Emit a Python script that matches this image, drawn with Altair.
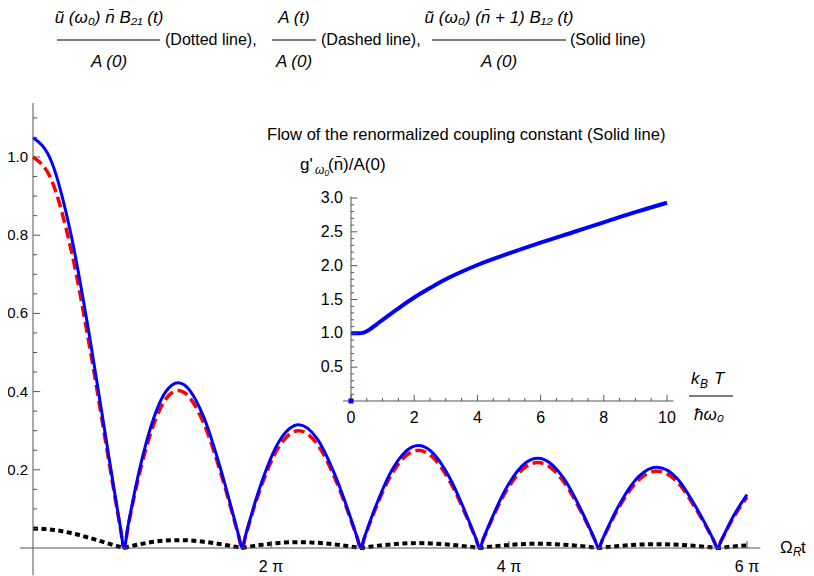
import altair as alt
import pandas as pd

# ---------------- main plot data ----------------
omega_t = [0, 0.5, 1.0, 1.5, 2.0, 2.305, 2.405, 2.505, 3.0, 3.5, 3.832, 4.0, 4.5, 5.0,
           5.42, 5.52, 5.62, 6.0, 6.5, 7.016, 7.5, 8.0, 8.554, 8.654, 8.754,
           9.0, 9.5, 10.0, 10.173, 10.5, 11.0, 11.5, 11.692, 11.792, 11.892,
           12.0, 12.5, 13.0, 13.324, 13.5, 14.0, 14.5, 14.831, 14.931, 15.031,
           15.5, 16.0, 16.471, 17.0, 17.5, 17.971, 18.071, 18.171, 18.5, 18.85]
dotted_vals = [0.0500, 0.0469, 0.0383, 0.0256, 0.0112, 0.0026, 0, 0.0026,
               0.0130, 0.0190, 0.0201, 0.0199, 0.0160, 0.0089, 0.0017, 0, 0.0017,
               0.0075, 0.0130, 0.0150, 0.0133, 0.0086, 0.0014, 0, 0.0014,
               0.0045, 0.0097, 0.0123, 0.0125, 0.0118, 0.0086, 0.0034, 0.0012, 0, 0.0012,
               0.0024, 0.0073, 0.0103, 0.0109, 0.0108, 0.0086, 0.0044, 0.0010, 0, 0.0010,
               0.0055, 0.0087, 0.0098, 0.0085, 0.0050, 0.0009, 0, 0.0009, 0.0040, 0.0065]
dashed_vals = [1.0, 0.9385, 0.7652, 0.5118, 0.2239, 0.0519, 0, 0.0519,
               0.2601, 0.3801, 0.4028, 0.3971, 0.3205, 0.1776, 0.034, 0, 0.034,
               0.1506, 0.2601, 0.3001, 0.2663, 0.1717, 0.0272, 0, 0.0272,
               0.0903, 0.1939, 0.2459, 0.2497, 0.2366, 0.1712, 0.0677, 0.0233, 0, 0.0233,
               0.0477, 0.1469, 0.2069, 0.2184, 0.2150, 0.1711, 0.0870, 0.0207, 0, 0.0207,
               0.1092, 0.1749, 0.1965, 0.1699, 0.0999, 0.0188, 0, 0.0188, 0.0790, 0.1300]
solid_vals = [1.05, 0.9854, 0.8035, 0.5374, 0.2351, 0.0545, 0, 0.0545,
              0.2731, 0.3991, 0.4229, 0.4170, 0.3365, 0.1865, 0.0357, 0, 0.0357,
              0.1581, 0.2731, 0.3151, 0.2796, 0.1803, 0.0286, 0, 0.0286,
              0.0948, 0.2036, 0.2582, 0.2622, 0.2484, 0.1798, 0.0711, 0.0245, 0, 0.0245,
              0.0501, 0.1542, 0.2172, 0.2293, 0.2258, 0.1797, 0.0914, 0.0217, 0, 0.0217,
              0.1147, 0.1836, 0.2063, 0.1784, 0.1049, 0.0197, 0, 0.0197, 0.0830, 0.1365]

# ---------------- inset data ----------------
kT = [0, 0.25, 0.4, 0.6, 0.8, 1.0, 1.5, 2.0, 2.5, 3.0, 3.5, 4.0, 5.0, 6.0, 7.0, 8.0, 9.0, 10.0]
g_flow = [1.0, 1.0, 1.01, 1.06, 1.13, 1.20, 1.37, 1.53, 1.67, 1.80, 1.91, 2.01,
          2.18, 2.34, 2.49, 2.64, 2.79, 2.93]

# ---------------- ticks ----------------
main_x_ticks = [6.2832, 12.5664, 18.8496]
main_x_labels = ["2 π", "4 π", "6 π"]
main_y_ticks = [0.2, 0.4, 0.6, 0.8, 1.0]
main_y_labels = ["0.2", "0.4", "0.6", "0.8", "1.0"]
main_y_minor = [0.05, 0.1, 0.15, 0.25, 0.3, 0.35, 0.45, 0.5, 0.55, 0.65, 0.7, 0.75,
                0.85, 0.9, 0.95, 1.05, 1.1]
inset_x_ticks = [0, 2, 4, 6, 8, 10]
inset_x_labels = ["0", "2", "4", "6", "8", "10"]
inset_x_minor = [0.5, 1, 1.5, 2.5, 3, 3.5, 4.5, 5, 5.5, 6.5, 7, 7.5, 8.5, 9, 9.5]
inset_y_ticks = [0.5, 1.0, 1.5, 2.0, 2.5, 3.0]
inset_y_labels = ["0.5", "1.0", "1.5", "2.0", "2.5", "3.0"]
inset_y_minor = [0.1, 0.2, 0.3, 0.4, 0.6, 0.7, 0.8, 0.9, 1.1, 1.2, 1.3, 1.4,
                 1.6, 1.7, 1.8, 1.9, 2.1, 2.2, 2.3, 2.4, 2.6, 2.7, 2.8, 2.9]

FONT = "Liberation Sans, Arial, DejaVu Sans"
AX = "#555555"
W, H = 798, 568

MX = alt.Scale(domain=[0, 18.8496], range=[25, 739], nice=False, zero=False)
MY = alt.Scale(domain=[0, 1.0], range=[540, 149], nice=False, zero=False)
IX = alt.Scale(domain=[0, 10], range=[343, 659], nice=False, zero=False)
IY = alt.Scale(domain=[0, 3], range=[393, 190], nice=False, zero=False)


def X(f, s):
    return alt.X(f, scale=s, axis=None)


def Y(f, s):
    return alt.Y(f, scale=s, axis=None)


layers = []

# ---- main curves ----
df_main = pd.DataFrame({"t": omega_t, "dotted": dotted_vals,
                        "dashed": dashed_vals, "solid": solid_vals})
layers.append(alt.Chart(df_main).mark_line(interpolate="monotone", color="black",
              strokeWidth=4, strokeDash=[5, 3.5], strokeCap="butt")
              .encode(x=X("t:Q", MX), y=Y("dotted:Q", MY)))
layers.append(alt.Chart(df_main).mark_line(interpolate="monotone", color="#ff0000",
              strokeWidth=3.5, strokeDash=[11, 5], strokeCap="butt")
              .encode(x=X("t:Q", MX), y=Y("dashed:Q", MY)))
layers.append(alt.Chart(df_main).mark_line(interpolate="monotone", color="#0000ff",
              strokeWidth=3)
              .encode(x=X("t:Q", MX), y=Y("solid:Q", MY)))

# ---- main axes ----
layers.append(alt.Chart(pd.DataFrame({"a": [-0.34], "b": [19.2], "y": [0.0]}))
              .mark_rule(color=AX, strokeWidth=1)
              .encode(x=X("a:Q", MX), x2="b:Q", y=Y("y:Q", MY)))
layers.append(alt.Chart(pd.DataFrame({"x": [0.0], "a": [-0.07], "b": [1.138]}))
              .mark_rule(color=AX, strokeWidth=1)
              .encode(x=X("x:Q", MX), y=Y("a:Q", MY), y2="b:Q"))
df_myt = pd.DataFrame({"v": main_y_ticks, "lab": main_y_labels, "a": 0.0, "b": 0.19})
layers.append(alt.Chart(df_myt).mark_rule(color=AX, strokeWidth=1)
              .encode(x=X("a:Q", MX), x2="b:Q", y=Y("v:Q", MY)))
layers.append(alt.Chart(df_myt).mark_text(font=FONT, fontSize=15, align="right",
              baseline="middle", dx=-5, color="black")
              .encode(x=X("a:Q", MX), y=Y("v:Q", MY), text="lab:N"))
df_mym = pd.DataFrame({"v": main_y_minor, "a": 0.0, "b": 0.11})
layers.append(alt.Chart(df_mym).mark_rule(color=AX, strokeWidth=1)
              .encode(x=X("a:Q", MX), x2="b:Q", y=Y("v:Q", MY)))
df_mxt = pd.DataFrame({"v": main_x_ticks, "lab": main_x_labels, "a": 0.0, "b": 0.018})
layers.append(alt.Chart(df_mxt).mark_rule(color=AX, strokeWidth=1)
              .encode(x=X("v:Q", MX), y=Y("a:Q", MY), y2="b:Q"))
layers.append(alt.Chart(df_mxt).mark_text(font=FONT, fontSize=16, align="center",
              baseline="middle", dy=19, color="black")
              .encode(x=X("v:Q", MX), y=Y("a:Q", MY), text="lab:N"))

# ---- inset ----
df_in = pd.DataFrame({"k": kT, "g": g_flow})
layers.append(alt.Chart(df_in).mark_line(interpolate="monotone", color="#0000ff",
              strokeWidth=4)
              .encode(x=X("k:Q", IX), y=Y("g:Q", IY)))
layers.append(alt.Chart(pd.DataFrame({"a": [-0.25], "b": [10.2], "y": [0.0]}))
              .mark_rule(color=AX, strokeWidth=1)
              .encode(x=X("a:Q", IX), x2="b:Q", y=Y("y:Q", IY)))
layers.append(alt.Chart(pd.DataFrame({"x": [0.0], "a": [0.0], "b": [3.02]}))
              .mark_rule(color=AX, strokeWidth=1)
              .encode(x=X("x:Q", IX), y=Y("a:Q", IY), y2="b:Q"))
df_iyt = pd.DataFrame({"v": inset_y_ticks, "lab": inset_y_labels, "a": 0.0, "b": 0.2})
layers.append(alt.Chart(df_iyt).mark_rule(color=AX, strokeWidth=1)
              .encode(x=X("a:Q", IX), x2="b:Q", y=Y("v:Q", IY)))
layers.append(alt.Chart(df_iyt).mark_text(font=FONT, fontSize=16, align="right",
              baseline="middle", dx=-8, color="black")
              .encode(x=X("a:Q", IX), y=Y("v:Q", IY), text="lab:N"))
df_iym = pd.DataFrame({"v": inset_y_minor, "a": 0.0, "b": 0.1})
layers.append(alt.Chart(df_iym).mark_rule(color=AX, strokeWidth=1)
              .encode(x=X("a:Q", IX), x2="b:Q", y=Y("v:Q", IY)))
df_ixt = pd.DataFrame({"v": inset_x_ticks, "lab": inset_x_labels, "a": 0.0, "b": 0.09})
layers.append(alt.Chart(df_ixt).mark_rule(color=AX, strokeWidth=1)
              .encode(x=X("v:Q", IX), y=Y("a:Q", IY), y2="b:Q"))
layers.append(alt.Chart(df_ixt).mark_text(font=FONT, fontSize=16, align="center",
              baseline="middle", dy=17, color="black")
              .encode(x=X("v:Q", IX), y=Y("a:Q", IY), text="lab:N"))
df_ixm = pd.DataFrame({"v": inset_x_minor, "a": 0.0, "b": 0.045})
layers.append(alt.Chart(df_ixm).mark_rule(color=AX, strokeWidth=1)
              .encode(x=X("v:Q", IX), y=Y("a:Q", IY), y2="b:Q"))
layers.append(alt.Chart(pd.DataFrame({"k": [0.0], "g": [0.0]}))
              .mark_square(color="#0000ff", size=25, opacity=1)
              .encode(x=X("k:Q", IX), y=Y("g:Q", IY)))


# ---- free text / fraction bars ----
def txt(s, x, y, size=16, align="left", style="normal"):
    return alt.Chart(pd.DataFrame({"s": [s]})).mark_text(
        font=FONT, fontSize=size, align=align, baseline="middle",
        fontStyle=style, color="black").encode(
        x=alt.value(x), y=alt.value(y), text="s:N")


def bar(x1, x2, y):
    return alt.Chart(pd.DataFrame({"s": [0]})).mark_rule(
        color="black", strokeWidth=1).encode(
        x=alt.value(x1), x2=alt.value(x2), y=alt.value(y))


layers += [
    txt("ũ (ω₀) n̄ B₂₁ (t)", 101, 10, size=17, align="center", style="italic"),
    bar(49, 152, 32),
    txt("A (0)", 101, 54, size=17, align="center", style="italic"),
    txt("(Dotted line),", 157, 32),
    txt("A (t)", 286, 10, size=17, align="center", style="italic"),
    bar(264, 308, 32),
    txt("A (0)", 286, 54, size=17, align="center", style="italic"),
    txt("(Dashed line),", 313, 32),
    txt("ũ (ω₀) (n̄ + 1) B₁₂ (t)", 491, 10, size=17, align="center", style="italic"),
    bar(424, 558, 32),
    txt("A (0)", 491, 54, size=17, align="center", style="italic"),
    txt("(Solid line)", 562, 32),
    # inset title and y label
    txt("Flow of the renormalized coupling constant (Solid line)", 259, 127, size=16.6),
    txt("g'", 292, 157, size=17),
    txt("ω₀", 307, 162, size=12, style="italic"),
    txt("(n̄)/A(0)", 320, 157, size=17),
    # inset x label
    txt("k", 683, 371, size=17, style="italic"),
    txt("B", 692, 376, size=12, style="italic"),
    txt("T", 706, 371, size=17, style="italic"),
    bar(681, 725, 388),
    txt("ħω₀", 701, 407, size=17, align="center", style="italic"),
    # main x label
    txt("Ω", 772, 540, size=17),
    txt("R", 785, 544, size=12, style="italic"),
    txt("t", 793, 540, size=17),
]

chart = (alt.layer(*layers)
         .resolve_scale(x="independent", y="independent")
         .properties(width=W, height=H, padding=0,
                     autosize=alt.AutoSizeParams(type="none"))
         .configure_view(stroke=None))

chart.save("out.html", embed_options={"renderer": "svg", "actions": False})
